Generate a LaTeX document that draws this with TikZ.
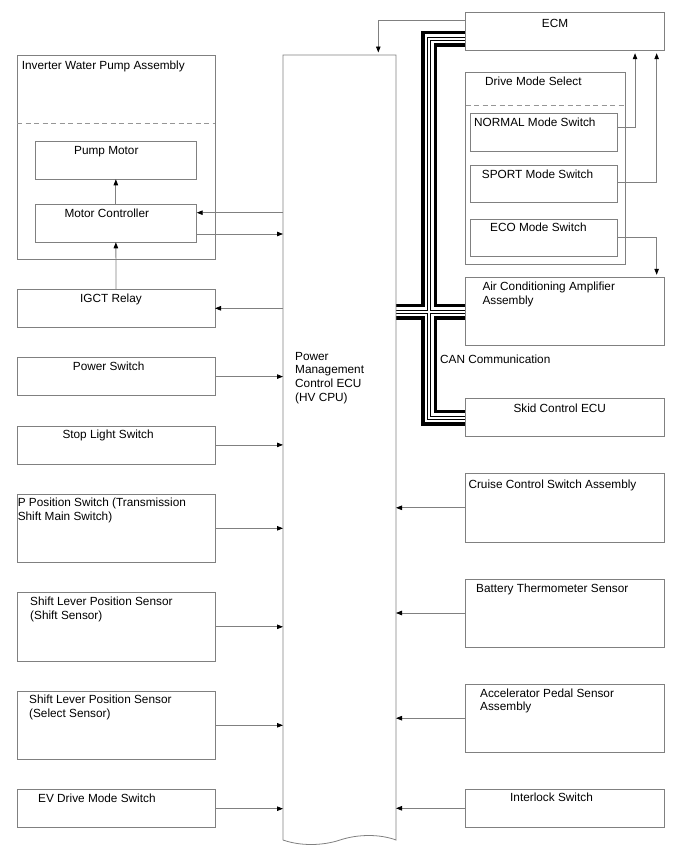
\documentclass[tikz,border=0pt]{standalone}
\usepackage{fontspec}
\setmainfont{Liberation Sans}
\usetikzlibrary{arrows.meta,positioning}

\definecolor{linegray}{RGB}{128,128,128}
\definecolor{dashgray}{RGB}{150,150,150}

\begin{document}
\begin{tikzpicture}[x=1pt, y=-1pt, node distance=30.3pt,
    blk/.style={draw=linegray, line width=0.8pt, inner sep=0pt, outer sep=0pt,
      minimum width=198pt, minimum height=38pt},
    rblk/.style={blk, minimum width=198.3pt},
    tall/.style={minimum height=68.2pt},
    txt/.style={inner sep=0pt, anchor=base west, align=left,
      font=\fontsize{11.8}{13.8}\selectfont},
    sig/.style={draw=linegray, line width=0.8pt,
      -{Triangle[length=6pt, width=4.5pt, color=black]}},
    sep/.style={draw=dashgray, line width=0.8pt, dash pattern=on 5pt off 3.5pt}]

  \useasboundingbox (0,0) rectangle (688,852);

  % central ECU (box drawn below, after the bus)
  \node[inner sep=0pt, outer sep=0pt, minimum width=113pt, minimum height=785pt, anchor=north west] (hv) at (283,55) {};

  % CAN bus
  \coordinate (canx) at (429.3,0);
  \coordinate (ecmcan) at (465.7,38.5);
  \coordinate (accan) at (465.7,311.5);
  \coordinate (skidcan) at (465.7,417.5);
  \foreach \w/\c in {16/black,9/white,4/black,2/white}{
    \draw[line width=\w pt, \c, line join=miter] (ecmcan) -| (canx |- skidcan) -- (skidcan);
    \draw[line width=\w pt, \c] (accan -| hv.east) -- (accan);
  }

  \draw[linegray, line width=0.8pt] (hv.south west) -- (hv.north west) -- (hv.north east) -- (hv.south east)
    .. controls (380,834) and (358,834) .. (340,840) .. controls (322,846) and (300,846) .. (hv.south west);
  \node[txt] (hv-t) at ([shift={(12,346.4)}]hv.north west) {Power\\Management\\Control ECU\\(HV CPU)};

  % left column
  \node[blk, minimum height=204pt, anchor=north west] (iwpa) at (17,55) {};
  \draw[sep] (iwpa.west |- 0,123.3) -- (iwpa.east |- 0,123.3);
  \node[blk, minimum width=161.7pt, minimum height=37.6pt, anchor=north west] (pump) at (35,141.7) {};
  \node[blk, minimum width=161.7pt, anchor=north west] (mctl) at (35,204.3) {};
  \node[blk, below=of iwpa] (igct) {};
  \node[blk, below=of igct] (pwrsw) {};
  \node[blk, below=of pwrsw] (stopsw) {};
  \node[blk, tall, below=of stopsw] (ppos) {};
  \node[blk, tall, below=of ppos] (slshift) {};
  \node[blk, tall, below=of slshift] (slselect) {};
  \node[blk, below=of slselect] (evsw) {};

  \node[txt] (iwpa-t) at ([shift={(4.7,14)}]iwpa.north west) {Inverter Water Pump Assembly};
  \node[txt] (pump-t) at ([shift={(39,12.3)}]pump.north west) {Pump Motor};
  \node[txt] (mctl-t) at ([shift={(29.3,12.7)}]mctl.north west) {Motor Controller};
  \node[txt] (igct-t) at ([shift={(63,12.7)}]igct.north west) {IGCT Relay};
  \node[txt] (pwrsw-t) at ([shift={(55.7,12.7)}]pwrsw.north west) {Power Switch};
  \node[txt] (stopsw-t) at ([shift={(45.3,13)}]stopsw.north west) {Stop Light Switch};
  \node[txt] (ppos-t) at ([shift={(0.6,26.5)}]ppos.north west) {P Position Switch (Transmission\\Shift Main Switch)};
  \node[txt] (slshift-t) at ([shift={(13,26.8)}]slshift.north west) {Shift Lever Position Sensor\\(Shift Sensor)};
  \node[txt] (slselect-t) at ([shift={(12,26.5)}]slselect.north west) {Shift Lever Position Sensor\\(Select Sensor)};
  \node[txt] (evsw-t) at ([shift={(21,13)}]evsw.north west) {EV Drive Mode Switch};

  % right column
  \node[rblk, minimum height=38.4pt, anchor=north west] (ecm) at (465.7,12.3) {};
  \node[blk, minimum width=159.3pt, minimum height=191.6pt, anchor=north west] (dms) at (465.7,72.7) {};
  \draw[sep] (dms.west |- 0,105) -- (dms.east |- 0,105);
  \node[blk, minimum width=147.3pt, minimum height=38.4pt, anchor=north west] (normal) at (470,113.3) {};
  \node[blk, minimum width=147.3pt, minimum height=37.7pt, anchor=north west] (sport) at (470,165) {};
  \node[blk, minimum width=147.3pt, minimum height=37.7pt, anchor=north west] (eco) at (470,219) {};
  \node[rblk, tall, anchor=north west] (acamp) at (465.7,277.3) {};
  \node[rblk, minimum height=38.4pt, anchor=north west] (skid) at (465.7,398.3) {};
  \node[rblk, tall, below=37pt of skid] (cruise) {};
  \node[rblk, tall, below=37pt of cruise] (battery) {};
  \node[rblk, tall, below=37pt of battery] (accel) {};
  \node[rblk, below=37pt of accel] (interlock) {};

  \node[txt] (ecm-t) at ([shift={(76,15)}]ecm.north west) {ECM};
  \node[txt] (dms-t) at ([shift={(19.3,13)}]dms.north west) {Drive Mode Select};
  \node[txt] (normal-t) at ([shift={(4,13)}]normal.north west) {NORMAL Mode Switch};
  \node[txt] (sport-t) at ([shift={(11.7,13)}]sport.north west) {SPORT Mode Switch};
  \node[txt] (eco-t) at ([shift={(20,12.7)}]eco.north west) {ECO Mode Switch};
  \node[txt] (acamp-t) at ([shift={(16.6,27.2)}]acamp.north west) {Air Conditioning Amplifier\\Assembly};
  \node[txt] (skid-t) at ([shift={(47.6,14)}]skid.north west) {Skid Control ECU};
  \node[txt] (cruise-t) at ([shift={(2.6,15)}]cruise.north west) {Cruise Control Switch Assembly};
  \node[txt] (battery-t) at ([shift={(10.3,13.7)}]battery.north west) {Battery Thermometer Sensor};
  \node[txt] (accel-t) at ([shift={(14.3,26.8)}]accel.north west) {Accelerator Pedal Sensor\\Assembly};
  \node[txt] (interlock-t) at ([shift={(44.3,12)}]interlock.north west) {Interlock Switch};
  \node[txt] (can-t) at (440,363.3) {CAN Communication};

  % signal lines
  \coordinate (mcin) at ([yshift=10.6pt]mctl.east);
  \coordinate (mcout) at ([yshift=-10.7pt]mctl.east);
  \draw[sig] (mcin -| hv.west) -- (mcin);
  \draw[sig] (mcout) -- (mcout -| hv.west);
  \draw[sig] (igct.east -| hv.west) -- (igct.east);
  \draw[sig] (igct.north) -- (mctl.south);
  \draw[sig] (mctl.north) -- (pump.south);
  \foreach \n in {pwrsw,stopsw,ppos,slshift,slselect,evsw}
    \draw[sig] (\n.east) -- (\n.east -| hv.west);
  \foreach \n in {cruise,battery,accel,interlock}
    \draw[sig] (\n.west) -- (\n.west -| hv.east);

  \coordinate (ecmout) at ([yshift=11.5pt]ecm.west);
  \draw[sig, shorten >=2.5pt] (ecmout) -| ([xshift=38.8pt]hv.north);
  \draw[sig, shorten >=2.5pt] ([yshift=5pt]normal.east) -| ([xshift=70.2pt]ecm.south);
  \draw[sig, shorten >=2.5pt] ([yshift=1.5pt]sport.east) -| ([xshift=91.8pt]ecm.south);
  \draw[sig, shorten >=2.5pt] (eco.east) -| ([xshift=91.8pt]acamp.north);
\end{tikzpicture}
\end{document}
